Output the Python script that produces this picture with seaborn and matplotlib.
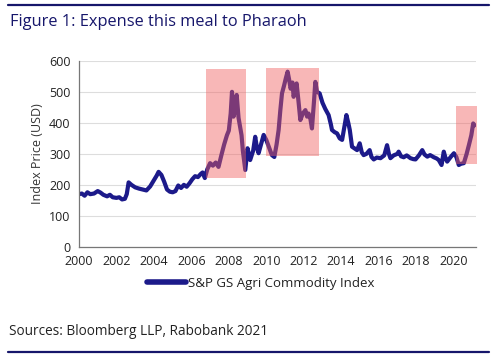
import numpy as np
import pandas as pd
import seaborn as sns
import matplotlib.pyplot as plt
from matplotlib.lines import Line2D
from matplotlib.patches import Rectangle

# S&P GS Agri Commodity Index
years = [2000.00, 2000.15, 2000.30, 2000.45, 2000.60, 2000.80, 2001.00, 2001.15, 2001.30, 2001.50,
         2001.65, 2001.80, 2002.00, 2002.15, 2002.30, 2002.45, 2002.55, 2002.65, 2002.80, 2003.00,
         2003.20, 2003.40, 2003.60, 2003.80, 2004.00, 2004.15, 2004.25, 2004.40, 2004.55, 2004.70,
         2004.85, 2005.00, 2005.15, 2005.30, 2005.45, 2005.60, 2005.75, 2005.90, 2006.05, 2006.20,
         2006.35, 2006.50, 2006.60, 2006.72, 2006.85, 2007.00, 2007.15, 2007.30, 2007.45, 2007.60,
         2007.75, 2007.90, 2008.00, 2008.10, 2008.17, 2008.25, 2008.33, 2008.42, 2008.52, 2008.60,
         2008.68, 2008.75, 2008.88, 2009.00, 2009.14, 2009.30, 2009.41, 2009.50, 2009.59, 2009.72,
         2009.86, 2010.00, 2010.15, 2010.30, 2010.43, 2010.55, 2010.66, 2010.75, 2010.84, 2010.95,
         2011.05, 2011.14, 2011.22, 2011.30, 2011.40, 2011.46, 2011.55, 2011.62, 2011.72, 2011.82,
         2011.95, 2012.09, 2012.18, 2012.26, 2012.35, 2012.44, 2012.55, 2012.62, 2012.71, 2012.85,
         2013.00, 2013.15, 2013.33, 2013.45, 2013.51, 2013.65, 2013.78, 2013.92, 2014.05, 2014.15,
         2014.28, 2014.38, 2014.46, 2014.58, 2014.70, 2014.85, 2014.99, 2015.10, 2015.20, 2015.35,
         2015.52, 2015.62, 2015.74, 2015.90, 2016.10, 2016.30, 2016.45, 2016.55, 2016.63, 2016.80,
         2017.00, 2017.07, 2017.20, 2017.34, 2017.50, 2017.70, 2017.85, 2017.97, 2018.15, 2018.33,
         2018.45, 2018.60, 2018.75, 2018.95, 2019.10, 2019.21, 2019.36, 2019.48, 2019.58, 2019.66,
         2019.85, 2020.02, 2020.15, 2020.28, 2020.40, 2020.55, 2020.70, 2020.82, 2020.95, 2021.05,
         2021.12]
index_price = [170, 172, 165, 176, 170, 172, 180, 175, 168, 163,
               168, 160, 158, 160, 153, 155, 170, 208, 200, 192,
               188, 185, 182, 195, 215, 230, 242, 232, 210, 185,
               178, 176, 180, 198, 190, 200, 194, 205, 218, 228,
               225, 235, 240, 222, 250, 270, 262, 272, 258, 295,
               330, 360, 375, 430, 500, 420, 440, 490, 416, 387,
               360, 310, 248, 318, 280, 310, 355, 320, 302, 330,
               361, 345, 320, 296, 290, 330, 377, 440, 495, 520,
               545, 565, 540, 510, 530, 484, 505, 527, 470, 409,
               430, 441, 420, 430, 415, 382, 470, 532, 500, 495,
               465, 445, 425, 395, 377, 370, 366, 350, 345, 380,
               425, 400, 377, 323, 318, 312, 334, 305, 296, 300,
               312, 290, 282, 288, 286, 295, 328, 300, 286, 295,
               300, 307, 292, 289, 295, 286, 283, 282, 295, 312,
               298, 291, 296, 289, 285, 280, 264, 307, 285, 275,
               290, 302, 290, 264, 268, 270, 300, 328, 360, 398,
               392]

# highlighted episodes: (start, end, low, high)
box_start = [2006.78, 2010.0, 2020.15]
box_end = [2008.9, 2012.8, 2021.25]
box_low = [223, 294, 266]
box_high = [572, 577, 454]

x_ticks = list(range(2000, 2021, 2))
y_ticks = [0, 100, 200, 300, 400, 500, 600]

navy = "#1c1a8a"
title_col = "#16166b"

sns.set_theme(style="whitegrid")
plt.rcParams["font.family"] = ["Open Sans", "DejaVu Sans"]

df = pd.DataFrame({"year": years, "price": index_price})

fig = plt.figure(figsize=(5, 3.62), dpi=100)
ax = fig.add_axes([0.158, 0.318, 0.794, 0.514])

sns.lineplot(data=df, x="year", y="price", ax=ax, color=navy, linewidth=3.0)

for s, e, lo, hi in zip(box_start, box_end, box_low, box_high):
    ax.add_patch(Rectangle((s, lo), e - s, hi - lo, facecolor="#f06060",
                           alpha=0.45, edgecolor="none", zorder=3, clip_on=False))

ax.set_xlim(2000, 2021.2)
ax.set_ylim(0, 600)
ax.set_xticks(x_ticks)
ax.set_yticks(y_ticks)
ax.set_xlabel("")
ax.set_ylabel("Index Price (USD)", fontsize=9, color="#333333", labelpad=4)
ax.tick_params(axis="both", labelsize=9, colors="#222222", length=4, width=0.8,
               direction="out", pad=2)
ax.tick_params(axis="x", color="#777777")
ax.tick_params(axis="y", color="#777777")
ax.grid(axis="x", visible=False)
ax.grid(axis="y", color="#dddddd", linewidth=0.8)
ax.set_facecolor("white")
for side in ["top", "right"]:
    ax.spines[side].set_visible(False)
for side in ["left", "bottom"]:
    ax.spines[side].set_color("#777777")
    ax.spines[side].set_linewidth(0.9)

handle = Line2D([0], [0], color=navy, linewidth=4)
fig.legend([handle], ["S&P GS Agri Commodity Index"], loc="center",
           bbox_to_anchor=(0.522, 0.218), frameon=False, fontsize=9.5,
           handlelength=2.9, handletextpad=0.2, labelcolor="#222222")

# top and bottom rules
fig.add_artist(Line2D([0.016, 0.978], [0.986, 0.986], color=title_col, linewidth=1.6))
fig.add_artist(Line2D([0.016, 0.978], [0.028, 0.028], color=title_col, linewidth=1.6))

fig.text(0.02, 0.939, "Figure 1: Expense this meal to Pharaoh", fontsize=11.8,
         color=title_col, va="center", ha="left")
fig.text(0.018, 0.084, "Sources: Bloomberg LLP, Rabobank 2021", fontsize=9.8,
         color="#222222", va="center", ha="left")

fig.savefig("out.png", dpi=100, facecolor="white")
